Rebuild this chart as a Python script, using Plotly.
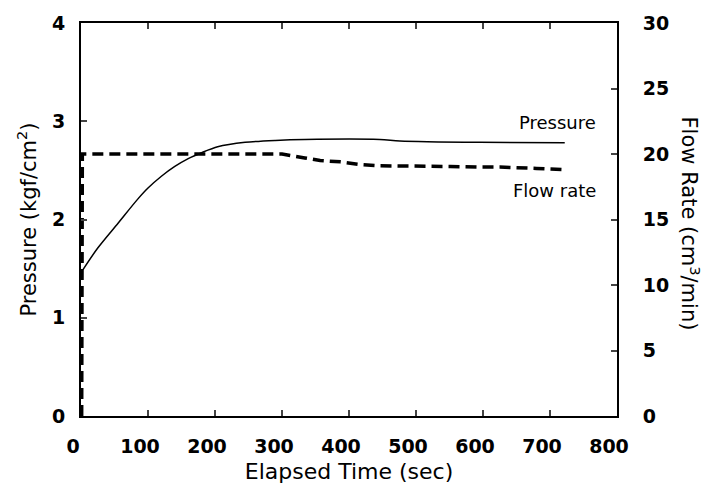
import plotly.graph_objects as go

# Pressure (kgf/cm^2) vs elapsed time (sec)
p_time = [3, 25, 55, 85, 100, 120, 140, 160, 180, 204, 245, 290, 334, 446, 476, 595, 722]
p_vals = [1.49, 1.71, 1.96, 2.21, 2.32, 2.44, 2.54, 2.62, 2.68, 2.74, 2.785, 2.805, 2.815, 2.815, 2.80, 2.785, 2.78]

# Flow rate (cm^3/min) vs elapsed time (sec)
f_time = [1, 2, 50, 100, 200, 300, 334, 357, 387, 416, 446, 476, 551, 595, 625, 680, 725]
f_vals = [0, 20.0, 20.0, 20.0, 20.0, 20.0, 19.7, 19.5, 19.4, 19.2, 19.1, 19.1, 19.05, 19.0, 19.0, 18.9, 18.8]

x_ticks = [0, 100, 200, 300, 400, 500, 600, 700, 800]
y_ticks = [0, 1, 2, 3, 4]
y2_ticks = [0, 5, 10, 15, 20, 25, 30]

FONT = "DejaVu Sans"

fig = go.Figure()
fig.add_trace(go.Scatter(x=p_time, y=p_vals, mode="lines", name="Pressure",
                         line=dict(color="black", width=1.5, shape="spline", smoothing=0.8),
                         yaxis="y"))
fig.add_trace(go.Scatter(x=f_time, y=f_vals, mode="lines", name="Flow rate",
                         line=dict(color="black", width=3.5, dash="11px,6px"), yaxis="y2"))

tickfont = dict(family=FONT, size=19, color="black", weight="bold")

fig.update_layout(
    width=713, height=493,
    margin=dict(l=81, r=96, t=15, b=77),
    paper_bgcolor="white", plot_bgcolor="white",
    showlegend=False,
    font=dict(family=FONT, color="black"),
    xaxis=dict(range=[0, 800], tickvals=x_ticks, ticks="inside", ticklen=6, tickwidth=1.5,
               showline=True, linewidth=2, linecolor="black", mirror="ticks",
               showgrid=False, zeroline=False, tickfont=tickfont,
               ticklabelstandoff=12, ticklabelshift=-8,
               title=dict(text="Elapsed Time (sec)", font=dict(family=FONT, size=22), standoff=8)),
    yaxis=dict(range=[0, 4], tickvals=y_ticks, ticks="inside", ticklen=6, tickwidth=1.5,
               showline=True, linewidth=2, linecolor="black",
               showgrid=False, zeroline=False, tickfont=tickfont,
               ticklabelstandoff=10,
               title=dict(text="Pressure (kgf/cm<sup>2</sup>)", font=dict(family=FONT, size=21), standoff=10)),
    yaxis2=dict(range=[0, 30], tickvals=y2_ticks, overlaying="y", side="right",
                ticks="inside", ticklen=6, tickwidth=1.5,
                showline=True, linewidth=2, linecolor="black",
                showgrid=False, zeroline=False, tickfont=tickfont,
                ticklabelstandoff=20),
    annotations=[
        dict(text="Pressure", x=772, y=2.99, xref="x", yref="y", xanchor="right", yanchor="middle",
             showarrow=False, font=dict(family=FONT, size=18, color="black")),
        dict(text="Flow rate", x=772, y=2.30, xref="x", yref="y", xanchor="right", yanchor="middle",
             showarrow=False, font=dict(family=FONT, size=18, color="black")),
        dict(text="Flow Rate (cm<sup>3</sup>/min)", x=1.136, y=0.49, xref="paper", yref="paper",
             xanchor="center", yanchor="middle", textangle=90, showarrow=False,
             font=dict(family=FONT, size=21, color="black")),
    ],
)

fig.write_html("out.html")
